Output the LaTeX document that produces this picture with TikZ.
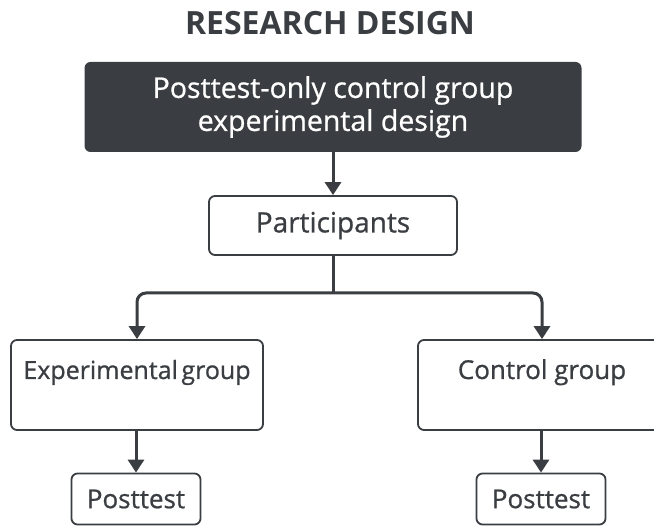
\documentclass[tikz,border=0pt]{standalone}
\usepackage{fontspec}
\setmainfont{Open Sans}[UprightFeatures={RawFeature={embolden=0.8}}]
\usetikzlibrary{arrows.meta}

\definecolor{inkgray}{HTML}{3A3D41}

\newcommand*{\imgw}{654}
\newcommand*{\imgh}{526}
\newcommand*{\splity}{293}

\begin{document}
\begin{tikzpicture}
[
	x=1pt, y=-1pt,
	box/.style={draw=inkgray, line width=1.8pt, rounded corners=6pt, fill=white, text=inkgray, inner sep=0pt},
	headbox/.style={fill=inkgray, rounded corners=6pt, text=white, align=center, inner sep=0pt, font=\fontsize{28.5}{33}\selectfont},
	arr/.style={draw=inkgray, line width=3pt, -{Triangle[width=16pt,length=13pt]}}
]

	\useasboundingbox (0,0) rectangle (\imgw,\imgh);
	\clip (0,0) rectangle (\imgw,\imgh);

	% title
	\node[text=inkgray, font=\fontsize{32}{36}\selectfont\bfseries] (title) at (330,23) {RESEARCH DESIGN};

	% design and participants
	\node[headbox, minimum width=497pt, minimum height=90pt] (design) at (333,107) {Posttest-only control group\\experimental design};
	\node[box, minimum width=248pt, minimum height=59pt, font=\fontsize{28}{32}\selectfont] (part) at (333,225.5) {Participants};

	% the two groups
	\node[box, minimum width=252pt, minimum height=90pt, text height=20pt, text depth=32pt, font=\fontsize{25}{30}\selectfont] (exp) at (137,385) {Experimental\hspace{-3pt} group};
	\node[box, minimum width=248pt, minimum height=90pt, text height=20pt, text depth=32pt, font=\fontsize{26}{30}\selectfont] (ctrl) at (542,385) {Control group};

	% posttests
	\node[box, minimum width=129pt, minimum height=51pt, font=\fontsize{26}{30}\selectfont] (postexp) at (136,499) {Posttest};
	\node[box, minimum width=129pt, minimum height=51pt, font=\fontsize{26}{30}\selectfont] (postctrl) at (541,499) {Posttest};

	% arrows
	\coordinate (split) at (333,\splity);
	\draw[arr] (design.south) -- (part.north);
	\draw[inkgray, line width=3pt] (part.south) -- (split);
	\draw[arr, rounded corners=9pt] (split) -| (exp.north);
	\draw[arr, rounded corners=9pt] (split) -| (ctrl.north);
	\draw[arr] (exp.south -| postexp.north) -- (postexp.north);
	\draw[arr] (ctrl.south -| postctrl.north) -- (postctrl.north);

\end{tikzpicture}
\end{document}
